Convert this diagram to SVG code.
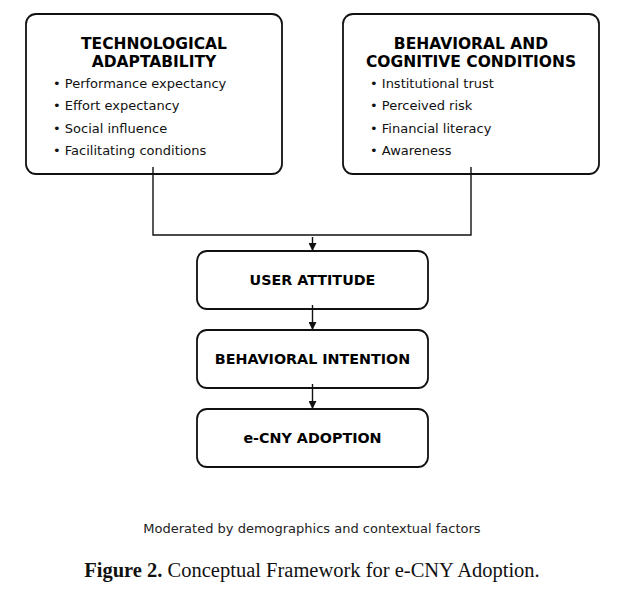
<svg xmlns="http://www.w3.org/2000/svg" width="624" height="592" viewBox="0 0 624 592">
<style>
.box{fill:#fff;stroke:#111;stroke-width:1.8}
.t{font-family:"DejaVu Sans",sans-serif;font-weight:bold;font-size:15.5px;fill:#000;text-anchor:middle}
.n{font-family:"DejaVu Sans",sans-serif;font-weight:bold;font-size:14.3px;fill:#000;text-anchor:middle}
.b{font-family:"DejaVu Sans",sans-serif;font-size:13px;fill:#111}
.c{stroke:#111;stroke-width:1.4;fill:none}
.m{font-family:"DejaVu Sans",sans-serif;font-size:13px;fill:#222;text-anchor:middle}
.cap{font-family:"Liberation Serif",serif;font-size:20.5px;fill:#111;text-anchor:middle}
</style>
<defs>
<marker id="ah" viewBox="0 0 10 10" refX="10" refY="5" markerWidth="8" markerHeight="8" markerUnits="userSpaceOnUse" orient="auto"><path d="M0,0 L10,5 L0,10 z" fill="#111"/></marker>
</defs>
<g id="tech">
<rect class="box" x="26" y="14" width="256" height="160" rx="10"/>
<text class="t" x="154" y="49">TECHNOLOGICAL</text>
<text class="t" x="154" y="67">ADAPTABILITY</text>
<text class="b" x="53" y="88">• Performance expectancy</text>
<text class="b" x="53" y="110">• Effort expectancy</text>
<text class="b" x="53" y="133">• Social influence</text>
<text class="b" x="53" y="155">• Facilitating conditions</text>
</g>
<g id="behav">
<rect class="box" x="343" y="14" width="256" height="160" rx="10"/>
<text class="t" x="471" y="49">BEHAVIORAL AND</text>
<text class="t" x="471" y="67">COGNITIVE CONDITIONS</text>
<text class="b" x="370" y="88">• Institutional trust</text>
<text class="b" x="370" y="110">• Perceived risk</text>
<text class="b" x="370" y="133">• Financial literacy</text>
<text class="b" x="370" y="155">• Awareness</text>
</g>
<g id="attitude">
<rect class="box" x="197" y="251" width="231" height="58" rx="10"/>
<text class="n" x="312.5" y="285">USER ATTITUDE</text>
</g>
<g id="intention">
<rect class="box" x="197" y="330" width="231" height="58" rx="10"/>
<text class="n" x="312.5" y="364">BEHAVIORAL INTENTION</text>
</g>
<g id="adoption">
<rect class="box" x="197" y="409" width="231" height="58" rx="10"/>
<text class="n" x="312.5" y="443">e-CNY ADOPTION</text>
</g>
<g id="connectors">
<path class="c" d="M153,167 V235 H471 V167"/>
<line class="c" x1="312.5" y1="237" x2="312.5" y2="251" marker-end="url(#ah)"/>
<line class="c" x1="312.5" y1="305" x2="312.5" y2="330" marker-end="url(#ah)"/>
<line class="c" x1="312.5" y1="384" x2="312.5" y2="409" marker-end="url(#ah)"/>
</g>
<text class="m" x="312" y="533">Moderated by demographics and contextual factors</text>
<text class="cap" x="312" y="577"><tspan font-weight="bold">Figure 2.</tspan> Conceptual Framework for e-CNY Adoption.</text>
</svg>
